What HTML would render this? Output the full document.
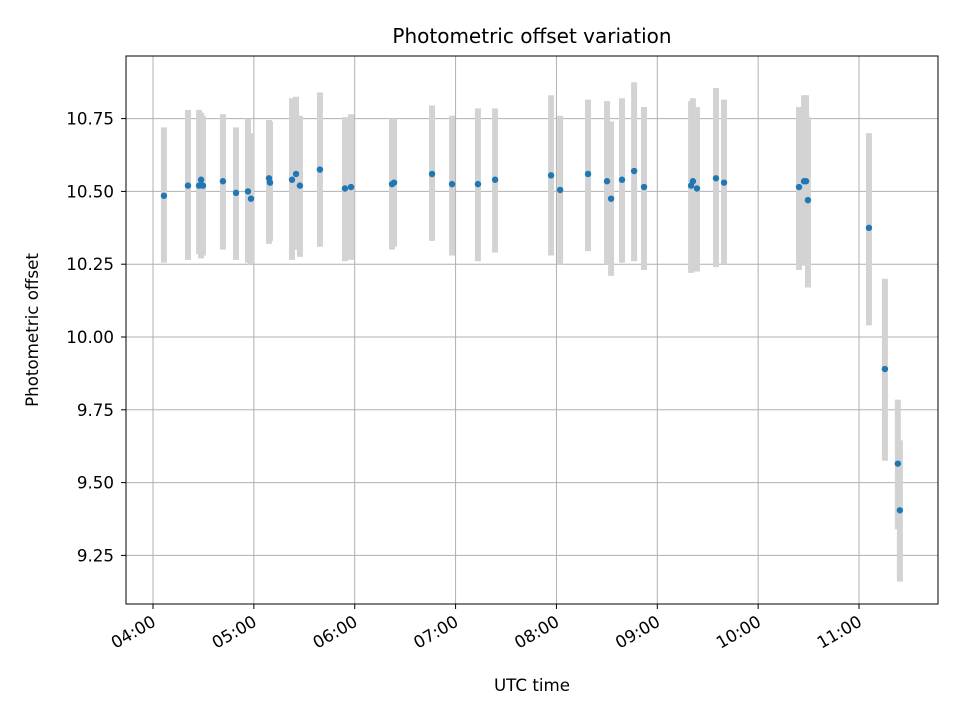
<!DOCTYPE html>
<html><head><meta charset="utf-8"><style>
body{margin:0;background:#fff;font-family:"DejaVu Sans","Liberation Sans",sans-serif}
</style></head><body>
<svg id="chart" width="960" height="720" xmlns="http://www.w3.org/2000/svg" font-family="DejaVu Sans, Liberation Sans, sans-serif">
<rect width="960" height="720" fill="#fff"/>
<g id="grid"></g><g id="errs"></g><g id="pts"></g><g id="axes"></g>
</svg>
<script>
const minutes=[6.5,20.8,27.4,28.6,29.7,41.6,49.4,56.5,58.3,69.0,69.6,82.7,85.1,87.4,99.3,114.2,117.8,142.2,143.4,166.0,177.9,193.3,203.5,236.8,242.2,258.8,270.1,272.5,279.0,286.2,292.1,320.1,321.2,323.6,334.9,339.7,384.3,387.3,388.5,389.6,425.9,435.4,443.1,444.3];
const values=[10.485,10.52,10.52,10.54,10.52,10.535,10.495,10.50,10.475,10.545,10.53,10.54,10.56,10.52,10.575,10.51,10.515,10.525,10.53,10.56,10.525,10.525,10.54,10.555,10.505,10.56,10.535,10.475,10.54,10.57,10.515,10.52,10.535,10.51,10.545,10.53,10.515,10.535,10.535,10.47,10.375,9.89,9.565,9.405];
const errHigh=[10.72,10.78,10.78,10.77,10.76,10.765,10.72,10.75,10.70,10.745,10.74,10.82,10.825,10.76,10.84,10.755,10.765,10.75,10.75,10.795,10.76,10.785,10.785,10.83,10.76,10.815,10.81,10.74,10.82,10.875,10.79,10.81,10.82,10.79,10.855,10.815,10.79,10.83,10.83,10.755,10.70,10.20,9.785,9.645];
const errLow=[10.255,10.265,10.285,10.27,10.28,10.30,10.265,10.255,10.25,10.32,10.33,10.265,10.30,10.275,10.31,10.26,10.265,10.30,10.31,10.33,10.28,10.26,10.29,10.28,10.25,10.295,10.25,10.21,10.255,10.26,10.23,10.22,10.23,10.225,10.24,10.25,10.23,10.245,10.25,10.17,10.04,9.575,9.34,9.16];
const yTicks=[9.25,9.50,9.75,10.00,10.25,10.50,10.75];
const xTickLabels=["04:00","05:00","06:00","07:00","08:00","09:00","10:00","11:00"];
const L=126,R=938,T=56,B=604;
const X=m=>153+m*100.86/60;
const Y=v=>337-(v-10)*291.2;
const NS="http://www.w3.org/2000/svg";
function mk(tag,attrs,parent,text){const e=document.createElementNS(NS,tag);for(const k in attrs)e.setAttribute(k,attrs[k]);if(text!==undefined)e.textContent=text;document.getElementById(parent).appendChild(e);return e;}
yTicks.forEach(v=>{const y=Y(v);
 const g=mk('line',{x1:L,x2:R,y1:y,y2:y,stroke:'#b0b0b0','stroke-width':1},'grid');
 
 mk('line',{x1:L-5,x2:L,y1:y,y2:y,stroke:'#000'},'axes');
 const t=mk('text',{x:L-12,y:y+6,'text-anchor':'end','font-size':16.7},'axes',v.toFixed(2));
 });
xTickLabels.forEach((s,i)=>{const x=X(i*60);
 const g=mk('line',{x1:x,x2:x,y1:T,y2:B,stroke:'#b0b0b0','stroke-width':1},'grid');
 
 mk('line',{x1:x,x2:x,y1:B,y2:B+5,stroke:'#000'},'axes');
 const t=mk('text',{x:x+4,y:B+21,'text-anchor':'end','font-size':16.7,transform:`rotate(-30 ${x+4} ${B+21})`},'axes',s);
 });
minutes.forEach((m,i)=>{const x=X(m);
 const e=mk('line',{x1:x,x2:x,y1:Y(errHigh[i]),y2:Y(errLow[i]),stroke:'#d3d3d3','stroke-width':6},'errs');
 
 const p=mk('circle',{cx:x,cy:Y(values[i]),r:3.2,fill:'#1f77b4'},'pts');
 });
const fr=mk('rect',{x:L,y:T,width:R-L,height:B-T,fill:'none',stroke:'#000','stroke-width':1},'axes');

const ti=mk('text',{x:532,y:43,'text-anchor':'middle','font-size':20},'axes','Photometric offset variation');

const xt=mk('text',{x:532,y:691,'text-anchor':'middle','font-size':16.7},'axes','UTC time');

const yt=mk('text',{x:38,y:330,'text-anchor':'middle','font-size':16.7,transform:'rotate(-90 38 330)'},'axes','Photometric offset');

</script>
</body></html>
